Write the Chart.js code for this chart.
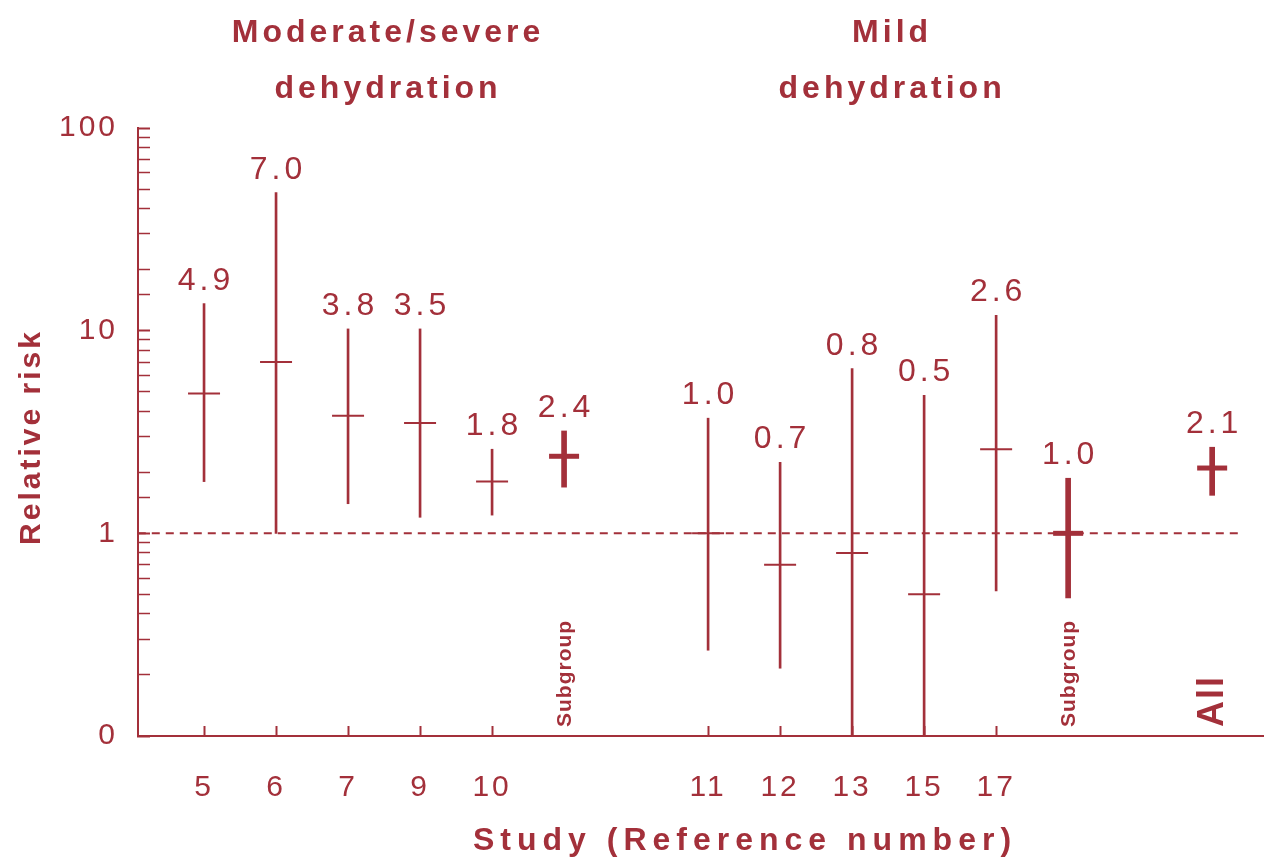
<!DOCTYPE html>
<html>
<head>
<meta charset="utf-8">
<script src="https://cdn.jsdelivr.net/npm/chart.js@4/dist/chart.umd.min.js"></script>
<style>
  html, body { margin:0; padding:0; background:#fff; overflow:hidden; }
  canvas { display:block; }
</style>
</head>
<body>
<canvas id="rr" width="1264" height="863"></canvas>
<script>
// Relative risk by study, log scale, with 95% CI

const STUDIES = ['5','6','7','9','10','Subgroup','11','12','13','15','17','Subgroup','All'];
const SLOT    = [0, 1, 2, 3, 4, 5, 7, 8, 9, 10, 11, 12, 14];
const GROUP   = [0, 0, 0, 0, 0, 0, 1, 1, 1, 1, 1, 1, 2];
const RR      = [4.9, 7.0, 3.8, 3.5, 1.8, 2.4, 1.0, 0.7, 0.8, 0.5, 2.6, 1.0, 2.1];
const LOW     = [1.8, 1.0, 1.4, 1.2, 1.23, 1.69, 0.265, 0.216, 0.1, 0.1, 0.52, 0.48, 1.54];
const HIGH    = [13.6, 48, 10.2, 10.2, 2.6, 3.2, 3.7, 2.24, 6.5, 4.8, 11.9, 1.87, 2.66];
const POOLED  = [false, false, false, false, false, true, false, false, false, false, false, true, true];
const GROUP_TITLES = [['Moderate/severe', 'dehydration'], ['Mild', 'dehydration']];
const Y_LABELS = { 0.1:'0', 1:'1', 10:'10', 100:'100' };
const X_TITLE = 'Study (Reference number)';
const Y_TITLE = 'Relative risk';

const RED = '#a3303a';
const FONT = '"Liberation Sans", Arial, sans-serif';

const idx = STUDIES.map((_, i) => i);
const single = idx.filter(i => !POOLED[i]);
const pooled = idx.filter(i => POOLED[i]);

// x tick marks only under the individual studies
const TICK_SLOTS = single.map(i => SLOT[i]);

const ciData  = list => list.map(i => ({ x: SLOT[i], y: [LOW[i], HIGH[i]] }));
const estData = list => list.map(i => ({ x: SLOT[i], y: RR[i] }));

// wider letter spacing for the axis tick labels
const spacing = {
  id: 'spacing',
  beforeDraw(chart) { chart.ctx.letterSpacing = '3px'; }
};

// value labels, group titles, axis titles, subgroup/all markers
const annotate = {
  id: 'annotate',
  afterDatasetsDraw(chart) {
    const { ctx, scales: { x, y } } = chart;
    ctx.save();
    ctx.fillStyle = RED;
    ctx.textAlign = 'center';
    ctx.textBaseline = 'alphabetic';

    ctx.letterSpacing = '4px';
    ctx.font = '32px ' + FONT;
    idx.forEach(i => {
      ctx.fillText(RR[i].toFixed(1), x.getPixelForValue(SLOT[i]) + 2, y.getPixelForValue(HIGH[i]) - 14);
    });

    // group titles
    ctx.font = 'bold 32px ' + FONT;
    GROUP_TITLES.forEach((lines, g) => {
      const slots = idx.filter(i => GROUP[i] === g).map(i => SLOT[i]);
      const cx = x.getPixelForValue((Math.min(...slots) + Math.max(...slots)) / 2) + 4;
      lines.forEach((t, k) => ctx.fillText(t, cx, 42 + k * 56));
    });

    // axis titles
    ctx.letterSpacing = '6px';
    ctx.fillText(X_TITLE, 745, 850);
    ctx.save();
    ctx.letterSpacing = '3px';
    ctx.font = 'bold 30px ' + FONT;
    ctx.translate(40, 437);
    ctx.rotate(-Math.PI / 2);
    ctx.fillText(Y_TITLE, 0, 0);
    ctx.restore();

    // rotated subgroup / all labels
    ctx.textAlign = 'left';
    ctx.textBaseline = 'middle';
    pooled.forEach(i => {
      const px = x.getPixelForValue(SLOT[i]);
      const all = STUDIES[i] === 'All';
      ctx.save();
      ctx.translate(px + 1, y.bottom - 9);
      ctx.rotate(-Math.PI / 2);
      ctx.letterSpacing = all ? '2px' : '1px';
      ctx.font = (all ? 'bold 36px ' : 'bold 21px ') + FONT;
      ctx.fillText(STUDIES[i], 0, 0);
      ctx.restore();
    });
    ctx.restore();
  }
};

Chart.defaults.font.family = FONT;
Chart.defaults.color = RED;

new Chart(document.getElementById('rr'), {
  type: 'bar',
  data: {
    datasets: [
      { type:'line', data:[{x:-0.92, y:1}, {x:14.4, y:1}], borderColor:RED, borderWidth:2,
        borderDash:[8,6], pointRadius:0, order:3 },
      { type:'bar', data: ciData(single), backgroundColor:RED, barThickness:2, grouped:false, order:2 },
      { type:'bar', data: ciData(pooled), backgroundColor:RED, barThickness:5, grouped:false, order:2 },
      { type:'scatter', data: estData(single), pointStyle:'line', pointRadius:16,
        borderColor:RED, borderWidth:2, order:1 },
      { type:'scatter', data: estData(pooled), pointStyle:'line', pointRadius:15,
        borderColor:RED, borderWidth:5, order:1 }
    ]
  },
  options: {
    responsive: false,
    animation: false,
    layout: { autoPadding: false, padding: { top: 128, right: 0, left: 0, bottom: 0 } },
    plugins: { legend:{ display:false }, tooltip:{ enabled:false } },
    scales: {
      x: {
        type: 'linear', min: -0.917, max: 14.72, offset: false,
        afterBuildTicks: s => { s.ticks = TICK_SLOTS.map(v => ({ value: v })); },
        afterFit: s => { s.height = 127; s.paddingLeft = 0; s.paddingRight = 0; },
        grid: { offset:false, drawOnChartArea:false, tickLength:-10, tickColor:RED, tickWidth:2 },
        border: { display:true, color:RED, width:2 },
        ticks: {
          autoSkip:false, maxRotation:0, padding:44, font:{ size:30 }, color:RED,
          callback: v => { const i = idx.find(k => SLOT[k] === v && !POOLED[k]); return i === undefined ? '' : STUDIES[i]; }
        }
      },
      y: {
        type: 'logarithmic', min: 0.1, max: 100,
        afterFit: s => { s.width = 138; },
        grid: { drawOnChartArea:false, tickLength:-12, tickColor:RED,
                tickWidth: c => (Y_LABELS[c.tick && c.tick.value] ? 2 : 1.5) },
        border: { display:true, color:RED, width:2 },
        ticks: {
          autoSkip:false, padding:32, font:{ size:30 }, color:RED,
          callback: v => Y_LABELS[v] || ''
        }
      }
    }
  },
  plugins: [spacing, annotate]
});
</script>
</body>
</html>
